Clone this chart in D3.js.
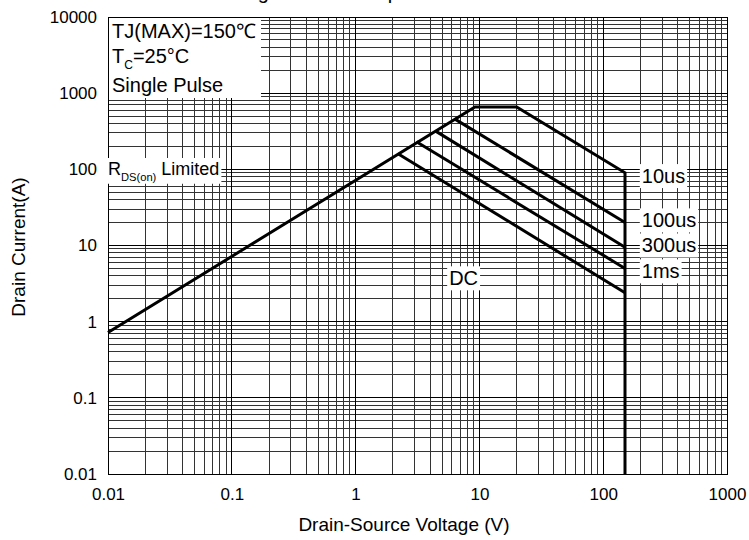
<!DOCTYPE html>
<html>
<head>
<meta charset="utf-8">
<script src="https://cdn.jsdelivr.net/npm/d3@7/dist/d3.min.js"></script>
<style>
  body { margin: 0; background: #fff; }
  svg { font-family: "Liberation Sans", Arial, sans-serif; }
</style>
</head>
<body>
<svg id="chart" width="749" height="540"></svg>
<script>
// ------------------------------------------
// Data (V, A)
// ------------------------------------------
const xDecades = [0.01, 0.1, 1, 10, 100, 1000]
const yDecades = [0.01, 0.1, 1, 10, 100, 1000, 10000]

const envelope10us = [[0.01, 0.72], [9.2, 660], [20, 660], [150, 90], [150, 0.01]]
const pulse100us = [[6.3, 460], [150, 20]]
const pulse300us = [[4.4, 320], [150, 9.5]]
const pulse1ms = [[3.1, 230], [150, 5]]
const pulseDC = [[2.2, 160], [150, 2.4]]

const seriesList = [envelope10us, pulse100us, pulse300us, pulse1ms, pulseDC]

// ------------------------------------------
// Layout
// ------------------------------------------
const margin = {left: 108, top: 17, right: 22, bottom: 66}
const svg = d3.select("#chart")
const width = +svg.attr("width") - margin.left - margin.right
const height = +svg.attr("height") - margin.top - margin.bottom

const x = d3.scaleLog().domain([0.01, 1000]).range([0, width])
const y = d3.scaleLog().domain([0.01, 10000]).range([height, 0])

// title, cut by the top edge as in the reference
svg.append("text")
  .attr("x", 241).attr("y", -1)
  .attr("font-size", 20)
  .text("Figure 9: Safe Operation Area")

const g = svg.append("g").attr("transform", `translate(${margin.left},${margin.top})`)

// minor + major grid values
function gridValues(decades) {
  let values = []
  decades.slice(0, -1).forEach(d => {
    for (let k = 2; k <= 9; k++) values.push(d * k)
  })
  return values
}

const grid = g.append("g").attr("shape-rendering", "crispEdges")

grid.selectAll(".vminor").data(gridValues(xDecades)).join("line")
  .attr("x1", d => x(d)).attr("x2", d => x(d))
  .attr("y1", 0).attr("y2", height)
  .attr("stroke", "#333").attr("stroke-width", 1)

grid.selectAll(".hminor").data(gridValues(yDecades)).join("line")
  .attr("y1", d => y(d)).attr("y2", d => y(d))
  .attr("x1", 0).attr("x2", width)
  .attr("stroke", "#333").attr("stroke-width", 1)

grid.selectAll(".vmajor").data(xDecades).join("line")
  .attr("x1", d => x(d)).attr("x2", d => x(d))
  .attr("y1", 0).attr("y2", height)
  .attr("stroke", "#000").attr("stroke-width", 1)

grid.selectAll(".hmajor").data(yDecades).join("line")
  .attr("y1", d => y(d)).attr("y2", d => y(d))
  .attr("x1", 0).attr("x2", width)
  .attr("stroke", "#000").attr("stroke-width", 1)

grid.append("rect")
  .attr("width", width).attr("height", height)
  .attr("fill", "none").attr("stroke", "#000")

// axes
const fmt = d => d >= 1 ? d3.format("d")(d) : String(d)

const xAxis = g.append("g")
  .attr("transform", `translate(0,${height})`)
  .call(d3.axisBottom(x).tickValues(xDecades).tickFormat(fmt).tickSize(0).tickPadding(14))
const yAxis = g.append("g")
  .call(d3.axisLeft(y).tickValues(yDecades).tickFormat(fmt).tickSize(0).tickPadding(11))

;[xAxis, yAxis].forEach(a => {
  a.select(".domain").remove()
  a.selectAll("text")
    .attr("font-family", "Liberation Sans, Arial, sans-serif")
    .attr("font-size", 17)
    .attr("fill", "#000")
})

svg.append("text")
  .attr("x", 404).attr("y", 531)
  .attr("text-anchor", "middle").attr("font-size", 19)
  .text("Drain-Source Voltage (V)")

svg.append("text")
  .attr("transform", "translate(25,247) rotate(-90)")
  .attr("text-anchor", "middle").attr("font-size", 19)
  .text("Drain Current(A)")

// curves
const line = d3.line().x(d => x(d[0])).y(d => y(d[1]))

g.selectAll(".soa").data(seriesList).join("path")
  .attr("d", line)
  .attr("fill", "none")
  .attr("stroke", "#000")
  .attr("stroke-width", 3)
  .attr("stroke-linejoin", "miter")

// ------------------------------------------
// Annotations (white boxes behind text)
// ------------------------------------------
function boxedText(parent, px, py, size, parts) {
  let t = parent.append("text")
    .attr("x", px).attr("y", py)
    .attr("font-size", size)
  parts.forEach(p => {
    let s = t.append("tspan").text(p.text)
    if (p.sub) s.attr("font-size", size * 0.62).attr("dy", size * 0.32)
    if (p.back) s.attr("dy", -size * 0.32)
  })
  let bb = t.node().getBBox()
  parent.insert("rect", "text")
    .attr("x", bb.x - 2).attr("y", bb.y - 1)
    .attr("width", bb.width + 4).attr("height", bb.height + 2)
    .attr("fill", "#fff")
  return t
}

const notes = svg.append("g")

notes.append("rect")
  .attr("x", margin.left + 1).attr("y", margin.top + 1)
  .attr("width", 152).attr("height", 80)
  .attr("fill", "#fff")

notes.append("text").attr("x", 112).attr("y", 38).attr("font-size", 20)
  .text("TJ(MAX)=150\u2103")

const tc = notes.append("text").attr("x", 112).attr("y", 63).attr("font-size", 20)
tc.append("tspan").text("T")
tc.append("tspan").text("C").attr("font-size", 12).attr("dy", 6)
tc.append("tspan").text("=25°C").attr("dy", -6)

notes.append("text").attr("x", 112).attr("y", 92).attr("font-size", 20)
  .text("Single Pulse")

const rdsGroup = svg.append("g")
boxedText(rdsGroup, 108, 175, 18, [{text: "R"}, {text: "DS(on)", sub: true}, {text: " Limited", back: true}])

const pulseLabels = [
  {text: "10us", v: 205, i: 66},
  {text: "100us", v: 205, i: 17.3},
  {text: "300us", v: 205, i: 8.1},
  {text: "1ms", v: 205, i: 3.7},
  {text: "DC", v: 5.7, i: 3.0}
]

pulseLabels.forEach(l => {
  boxedText(svg.append("g"), margin.left + x(l.v), margin.top + y(l.i), 20, [{text: l.text}])
})
</script>
</body>
</html>
